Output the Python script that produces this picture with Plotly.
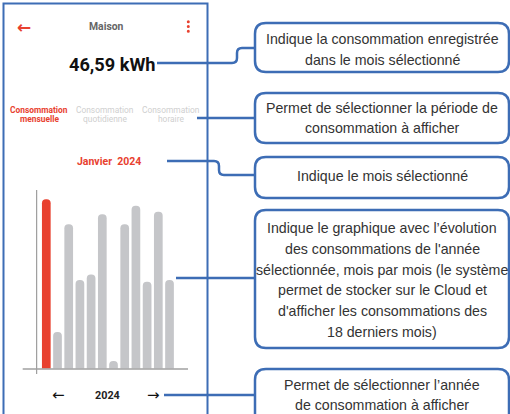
import plotly.graph_objects as go

W, H = 510, 414

months = ["Jan", "Fév", "Mar", "Avr", "Mai", "Juin", "Juil", "Août", "Sep", "Oct", "Nov", "Déc"]
values = [46.59, 10.1, 39.7, 24.4, 25.9, 42.5, 2.1, 39.7, 44.8, 23.9, 43.2, 24.4]
selected = 0

header_title = "Maison"
total_label = "46,59 kWh"
tabs = [["Consommation", "mensuelle"], ["Consommation", "quotidienne"], ["Consommation", "horaire"]]
month_label = "Janvier  2024"
year_label = "2024"
callouts = [
    ["Indique la consommation enregistrée", "dans le mois sélectionné"],
    ["Permet de sélectionner la période de", "consommation à afficher"],
    ["Indique le mois sélectionné"],
    ["Indique le graphique avec l’évolution", "des consommations de l'année",
     "sélectionnée, mois par mois (le système", "permet de stocker sur le Cloud et",
     "d'afficher les consommations des", "18 derniers mois)"],
    ["Permet de sélectionner l’année", "de consommation à afficher"],
]

RED = "#e8412f"
GREY_BAR = "#c5c6c9"
BLUE = "#3d6db5"
BOX_FONT = "Liberation Sans, Arial, sans-serif"
UI_FONT = "Roboto, Arial, sans-serif"


def px(x):
    return x / W


def py(y):
    return 1 - y / H


def path(cmds):
    out = []
    for c in cmds:
        if c[0] in ("M", "L"):
            out.append(f"{c[0]}{px(c[1]):.5f},{py(c[2]):.5f}")
        elif c[0] == "Q":
            out.append(f"Q{px(c[1]):.5f},{py(c[2]):.5f} {px(c[3]):.5f},{py(c[4]):.5f}")
        elif c[0] == "Z":
            out.append("Z")
    return " ".join(out)


def rounded_box(x0, y0, x1, y1, r):
    return path([
        ("M", x0 + r, y0), ("L", x1 - r, y0), ("Q", x1, y0, x1, y0 + r),
        ("L", x1, y1 - r), ("Q", x1, y1, x1 - r, y1), ("L", x0 + r, y1),
        ("Q", x0, y1, x0, y1 - r), ("L", x0, y0 + r), ("Q", x0, y0, x0 + r, y0), ("Z",),
    ])


colors = [RED if i == selected else GREY_BAR for i in range(len(values))]

fig = go.Figure()
fig.add_trace(go.Bar(
    x=months, y=values, marker=dict(color=colors, cornerradius="50%", line=dict(width=0)),
    width=0.777, hoverinfo="skip", showlegend=False,
))

base_y = 368.7
top_y = 190
scale = values[0] / 169.4
fig.update_layout(
    width=W, height=H, margin=dict(l=0, r=0, t=0, b=0),
    paper_bgcolor="white", plot_bgcolor="rgba(0,0,0,0)",
    xaxis=dict(domain=[px(22.7), px(188)], range=[-2.107, 12.65], visible=False, fixedrange=True),
    yaxis=dict(domain=[py(base_y), py(top_y)], range=[0, (base_y - top_y) * scale], visible=False),
)

shapes = []
# phone frame
shapes.append(dict(type="rect", xref="paper", yref="paper", x0=px(3.5), x1=px(207.5), y0=py(3.5), y1=py(430),
                   line=dict(color=BLUE, width=2), layer="above"))
# chart axes
shapes.append(dict(type="line", xref="paper", yref="paper", x0=px(36.7), x1=px(36.7), y0=py(190), y1=py(374),
                   line=dict(color="#8a8a8a", width=1)))
shapes.append(dict(type="line", xref="paper", yref="paper", x0=px(22.7), x1=px(188), y0=py(369), y1=py(369),
                   line=dict(color="#a0a0a0", width=1.5)))
# menu dots
for dy in (21.7, 26.5, 31.3):
    shapes.append(dict(type="circle", xref="paper", yref="paper", x0=px(186.8), x1=px(189.8),
                       y0=py(dy - 1.5), y1=py(dy + 1.5), fillcolor=RED, line=dict(width=0)))

# callout boxes
boxes = [(255, 23, 509, 72), (255, 93, 509, 143), (255, 157, 509, 198), (255, 210, 509, 348), (255, 369, 509, 430)]
for (x0, y0, x1, y1) in boxes:
    shapes.append(dict(type="path", xref="paper", yref="paper", path=rounded_box(x0, y0, x1, y1, 11),
                       line=dict(color=BLUE, width=2.5)))

# connectors
connectors = [
    [("M", 157, 63), ("L", 232, 63), ("Q", 237, 63, 237, 58), ("L", 237, 53), ("Q", 237, 48, 242, 48), ("L", 255, 48)],
    [("M", 197, 118), ("L", 255, 118)],
    [("M", 167, 161), ("L", 214, 161), ("Q", 219, 161, 219, 166), ("L", 219, 170), ("Q", 219, 175, 224, 175), ("L", 255, 175)],
    [("M", 176, 278), ("L", 255, 278)],
    [("M", 164, 395), ("L", 255, 395)],
]
for c in connectors:
    shapes.append(dict(type="path", xref="paper", yref="paper", path=path(c), line=dict(color=BLUE, width=2.5)))

fig.update_layout(shapes=shapes)

ann = []


def text(x, y, s, size, color, family=UI_FONT, bold=False):
    ann.append(dict(xref="paper", yref="paper", x=px(x), y=py(y), text=(f"<b>{s}</b>" if bold else s),
                    showarrow=False, xanchor="center", yanchor="middle",
                    font=dict(size=size, color=color, family=family)))


text(24, 26.5, "←", 17, RED, family="DejaVu Sans", bold=True)
text(106, 27, header_title, 10.4, "#666666", bold=True)
text(112.5, 64, total_label, 18.2, "#111111", bold=True)
tab_x = [39, 105, 171]
for i, (l1, l2) in enumerate(tabs):
    sel = i == 0
    col = RED if sel else "#cfcfcf"
    text(tab_x[i], 110, l1, 8.4, col, bold=sel)
    text(tab_x[i], 119.5, l2, 8.4, col, bold=sel)
text(109, 161.5, month_label, 10.5, RED, bold=True)
text(58, 395, "←", 15, "#111111", family="DejaVu Sans")
text(107, 395, year_label, 10.8, "#222222", bold=True)
text(153, 395, "→", 15, "#111111", family="DejaVu Sans")

line_gap = 20.8
centers = [49.5, 118, 176, 280, 395]
for lines, cy in zip(callouts, centers):
    n = len(lines)
    for k, s in enumerate(lines):
        y = cy + (k - (n - 1) / 2) * line_gap
        text(382, y, s, 14.2, "#333333", family=BOX_FONT)

fig.update_layout(annotations=ann)
fig.write_html("out.html", config={"displayModeBar": False},
               post_script="document.body.style.margin='0px';document.body.style.overflow='hidden';")
